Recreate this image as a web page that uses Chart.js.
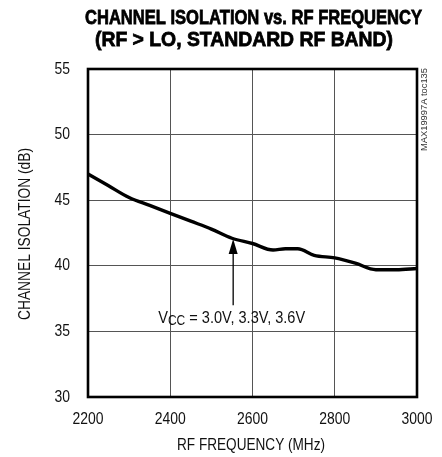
<!DOCTYPE html>
<html>
<head>
<meta charset="utf-8">
<script src="https://cdn.jsdelivr.net/npm/chart.js@4.4.1/dist/chart.umd.min.js"></script>
<style>
html,body{margin:0;padding:0;background:#fff;}
#wrap{width:442px;height:457px;position:relative;}
</style>
</head>
<body>
<div id="wrap"><canvas id="c" width="442" height="457"></canvas></div>
<script>
const titleLines = ["CHANNEL ISOLATION vs. RF FREQUENCY", "(RF > LO, STANDARD RF BAND)"];
const xAxisTitle = "RF FREQUENCY (MHz)";
const yAxisTitle = "CHANNEL ISOLATION (dB)";
const sideNote = "MAX19997A toc135";
const frequencies = [2200, 2250, 2300, 2350, 2400, 2450, 2500, 2550, 2600, 2650, 2680, 2710, 2750, 2800, 2850, 2900, 2950, 3000];
const isolation   = [47.0, 46.1, 45.2, 44.6, 44.0, 43.4, 42.8, 42.1, 41.7, 41.2, 41.3, 41.3, 40.8, 40.6, 40.2, 39.7, 39.7, 39.8];
const xTicks = [2200, 2400, 2600, 2800, 3000];
const yTicks = [30, 35, 40, 45, 50, 55];
const annotationParts = ["V", "CC", " = 3.0V, 3.3V, 3.6V"];
const arrowAt = {freq: 2553, tip: 42.05, base: 37.0};

const FONT = "'Liberation Sans', Arial, sans-serif";

// draw text squeezed horizontally (condensed look)
function sText(ctx, txt, x, y, font, sx, align, baseline) {
  ctx.save();
  ctx.font = font; ctx.textAlign = align || 'center'; ctx.textBaseline = baseline || 'middle';
  ctx.translate(x, y); ctx.scale(sx, 1);
  ctx.fillText(txt, 0, 0);
  ctx.restore();
}
function fitScale(ctx, txt, font, w) { ctx.save(); ctx.font = font; const m = ctx.measureText(txt).width; ctx.restore(); return w / m; }

const overlay = {
  id: 'overlay',
  afterDraw(chart) {
    const ctx = chart.ctx, a = chart.chartArea;
    const xs = chart.scales.x, ys = chart.scales.y;
    ctx.save();
    // frame
    ctx.strokeStyle = '#000'; ctx.lineWidth = 2.6;
    ctx.strokeRect(a.left, a.top, a.right - a.left, a.bottom - a.top);
    ctx.fillStyle = '#000';
    // title (heavy condensed)
    const tf = "bold 21px " + FONT;
    ctx.strokeStyle = '#000'; ctx.lineWidth = 0.8;
    [[titleLines[0], 253.5, 18, 337], [titleLines[1], 244, 40.5, 298]].forEach(([t, cx, cy, w]) => {
      const s = fitScale(ctx, t, tf, w);
      ctx.save(); ctx.font = tf; ctx.textAlign = 'center'; ctx.textBaseline = 'middle';
      ctx.translate(cx, cy); ctx.scale(s, 1); ctx.fillText(t, 0, 0); ctx.strokeText(t, 0, 0); ctx.restore();
    });
    // tick labels
    ctx.fillStyle = '#111';
    const tk = "17px " + FONT;
    xTicks.forEach(v => sText(ctx, String(v), xs.getPixelForValue(v), a.bottom + 22, tk, 0.82, 'center', 'middle'));
    yTicks.forEach(v => sText(ctx, String(v), a.left - 18, ys.getPixelForValue(v), tk, 0.82, 'right', 'middle'));
    // axis titles
    const af = "17px " + FONT;
    sText(ctx, xAxisTitle, 251, 445, af, fitScale(ctx, xAxisTitle, af, 148), 'center', 'middle');
    ctx.save();
    ctx.translate(25, 234); ctx.rotate(-Math.PI / 2);
    sText(ctx, yAxisTitle, 0, 0, af, fitScale(ctx, yAxisTitle, af, 172), 'center', 'middle');
    ctx.restore();
    // side note
    ctx.save();
    ctx.translate(424.5, a.top - 1); ctx.rotate(-Math.PI / 2);
    ctx.fillStyle = '#333';
    sText(ctx, sideNote, 0, 0, "9px " + FONT, fitScale(ctx, sideNote, "9px " + FONT, 83), 'right', 'middle');
    ctx.restore();
    // arrow
    const ax = xs.getPixelForValue(arrowAt.freq);
    const tipY = ys.getPixelForValue(arrowAt.tip);
    const baseY = ys.getPixelForValue(arrowAt.base);
    ctx.fillStyle = '#000'; ctx.strokeStyle = '#000'; ctx.lineWidth = 1.3;
    ctx.beginPath(); ctx.moveTo(ax, tipY + 10); ctx.lineTo(ax, baseY); ctx.stroke();
    ctx.beginPath(); ctx.moveTo(ax, tipY); ctx.lineTo(ax - 4.5, tipY + 15); ctx.lineTo(ax + 4.5, tipY + 15); ctx.closePath(); ctx.fill();
    // annotation text  V_CC = ...
    ctx.fillStyle = '#111';
    const f1 = "17px " + FONT, f2 = "14px " + FONT;
    ctx.font = f1; const w1 = ctx.measureText(annotationParts[0]).width, w3 = ctx.measureText(annotationParts[2]).width;
    ctx.font = f2; const w2 = ctx.measureText(annotationParts[1]).width;
    const s = 147 / (w1 + w2 + w3);
    let x0 = ax - 1.5 - 147 / 2;
    const base = baseY + 18;
    sText(ctx, annotationParts[0], x0, base, f1, s, 'left', 'alphabetic'); x0 += w1 * s;
    sText(ctx, annotationParts[1], x0, base + 1.5, f2, s, 'left', 'alphabetic'); x0 += w2 * s;
    sText(ctx, annotationParts[2], x0, base, f1, s, 'left', 'alphabetic');
    ctx.restore();
  }
};

new Chart(document.getElementById('c'), {
  type: 'line',
  data: {
    datasets: [{
      data: frequencies.map((f, i) => ({x: f, y: isolation[i]})),
      borderColor: '#000',
      borderWidth: 3.4,
      pointRadius: 0,
      tension: 0.35,
      cubicInterpolationMode: 'monotone',
      fill: false
    }]
  },
  options: {
    responsive: false,
    animation: false,
    devicePixelRatio: 1,
    layout: {padding: {top: 69, right: 25, left: 0, bottom: 0}},
    plugins: {legend: {display: false}, tooltip: {enabled: false}, title: {display: false}},
    scales: {
      x: {
        type: 'linear', min: 2200, max: 3000,
        afterBuildTicks: s => { s.ticks = xTicks.map(v => ({value: v})); },
        afterFit: s => { s.height = 60; },
        grid: {color: '#555', lineWidth: 1, drawTicks: false},
        border: {display: false},
        ticks: {display: false}
      },
      y: {
        type: 'linear', min: 30, max: 55,
        afterBuildTicks: s => { s.ticks = yTicks.map(v => ({value: v})); },
        afterFit: s => { s.width = 88; },
        grid: {color: '#555', lineWidth: 1, drawTicks: false},
        border: {display: false},
        ticks: {display: false}
      }
    }
  },
  plugins: [overlay]
});
</script>
</body>
</html>
